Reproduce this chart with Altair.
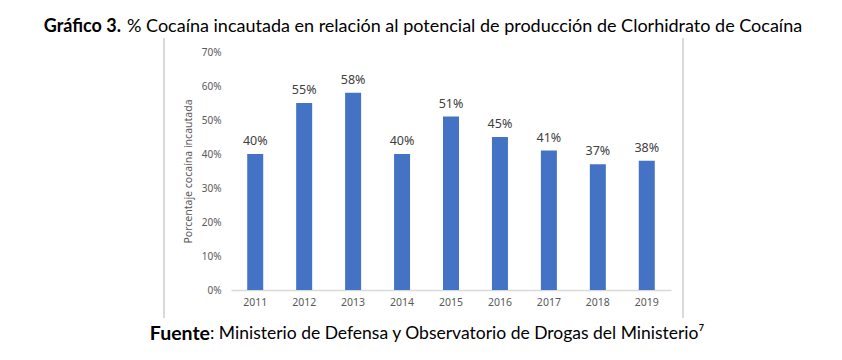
import altair as alt
import pandas as pd

years = ["2011", "2012", "2013", "2014", "2015", "2016", "2017", "2018", "2019"]
values = [0.40, 0.55, 0.58, 0.40, 0.51, 0.45, 0.41, 0.37, 0.38]
labels = ["40%", "55%", "58%", "40%", "51%", "45%", "41%", "37%", "38%"]
y_ticks = [0, 0.1, 0.2, 0.3, 0.4, 0.5, 0.6, 0.7]

df = pd.DataFrame({"year": years, "value": values, "label": labels})

W, H = 440, 238
FONT = "Noto Sans"
TFONT = "Lato"

xenc = alt.X("year:N", sort=years, title=None,
             scale=alt.Scale(paddingInner=0.67, paddingOuter=0.33),
             axis=alt.Axis(labelAngle=0, ticks=False, domainColor="#D9D9D9",
                           domainWidth=1.5, labelColor="#595959", labelFont=FONT,
                           labelFontSize=10.5, labelPadding=7, grid=False))
yenc = alt.Y("value:Q", title="Porcentaje cocaína incautada",
             scale=alt.Scale(domain=[0, 0.7]),
             axis=alt.Axis(format=".0%", values=y_ticks,
                           labelOverlap=False,
                           domain=False, ticks=False, grid=False,
                           labelColor="#595959", labelFont=FONT, labelFontSize=10,
                           labelPadding=10, titleColor="#595959", titleFont=FONT,
                           titleFontSize=10.5, titleFontWeight="normal", titlePadding=8))

base = alt.Chart(df)

bars = base.mark_bar(color="#4472C4", size=16).encode(x=xenc, y=yenc)

text = base.mark_text(baseline="bottom", dy=-6, font=FONT, fontSize=12.5,
                       color="#404040").encode(x=xenc, y=yenc, text="label:N")

def txt(s, x, y, weight, align, size):
    return alt.Chart(pd.DataFrame({"t": [s]})).mark_text(
        font=TFONT, fontSize=size, fontWeight=weight, align=align,
        baseline="middle", color="#000000").encode(
        x=alt.value(x), y=alt.value(y), text="t:N")

title_b = txt("Gráfico 3.", -110, -25, "bold", "right", 18)
title_r = txt("% Cocaína incautada en relación al potencial de producción de Clorhidrato de Cocaína",
              -104, -25, "normal", "left", 18)
foot_b = txt("Fuente", -21, 282, "bold", "right", 19.5)
foot_r = txt(": Ministerio de Defensa y Observatorio de Drogas del Ministerio⁷",
             -21, 282, "normal", "left", 17.5)

border_l = alt.Chart(df).mark_rule(color="#D9D9D9", strokeWidth=1).encode(
    x=alt.value(-67), y=alt.value(-14), y2=alt.value(266))
border_r = alt.Chart(df).mark_rule(color="#D9D9D9", strokeWidth=1).encode(
    x=alt.value(452), y=alt.value(-14), y2=alt.value(266))

chart = alt.layer(border_l, border_r, bars, text, title_b, title_r, foot_b, foot_r).properties(
    width=W, height=H,
    autosize=alt.AutoSizeParams(type="none"),
    padding={"left": 223, "top": 44, "right": 163, "bottom": 62},
    background="white",
).configure_view(stroke=None)

chart.save("out.html", embed_options={"renderer": "svg", "actions": False})
